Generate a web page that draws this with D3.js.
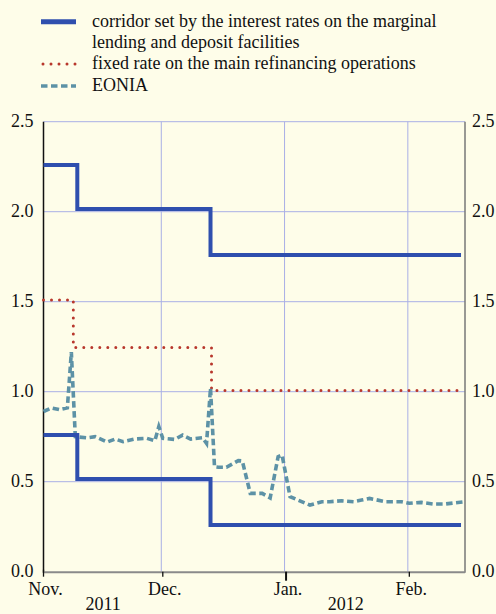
<!DOCTYPE html>
<html><head><meta charset="utf-8">
<script src="https://cdn.jsdelivr.net/npm/d3@7"></script>
<style>
html,body{margin:0;padding:0;background:#fefde9;}
svg{display:block;}
svg text{font-family:'Liberation Serif', Tinos, 'Times New Roman', Times, 'DejaVu Serif', serif;}
</style></head>
<body>
<svg id="chart" width="496" height="614"></svg>
<script>
const upperCorridor = [["2011-11-01",2.26],["2011-11-09T12:00",2.015],["2011-12-13",1.76],["2012-02-14",1.76]];
const lowerCorridor = [["2011-11-01",0.76],["2011-11-09T12:00",0.515],["2011-12-13",0.26],["2012-02-14",0.26]];
const mroRate = [["2011-11-01",1.51],["2011-11-08T12:00",1.245],["2011-12-13T06:00",1.007],["2012-02-14",1.0]];
const eoniaDates = ["2011-11-01","2011-11-03","2011-11-05","2011-11-07","2011-11-08","2011-11-09","2011-11-12","2011-11-14","2011-11-17","2011-11-19","2011-11-21","2011-11-24","2011-11-27","2011-11-29","2011-11-30","2011-12-01","2011-12-04","2011-12-06","2011-12-08","2011-12-11","2011-12-12","2011-12-13","2011-12-14","2011-12-15","2011-12-17","2011-12-20","2011-12-21","2011-12-23","2011-12-26","2011-12-28","2011-12-30","2011-12-31","2012-01-02","2012-01-04","2012-01-07","2012-01-10","2012-01-12","2012-01-15","2012-01-18","2012-01-20","2012-01-22","2012-01-26","2012-01-30","2012-02-01","2012-02-04","2012-02-07","2012-02-10","2012-02-15"];
const eoniaValues = [0.89,0.91,0.90,0.91,1.22,0.75,0.744,0.75,0.72,0.737,0.722,0.737,0.741,0.728,0.806,0.741,0.735,0.759,0.737,0.744,0.713,1.02,0.583,0.58,0.58,0.617,0.615,0.435,0.435,0.41,0.639,0.648,0.417,0.398,0.37,0.389,0.389,0.394,0.389,0.398,0.407,0.389,0.389,0.38,0.385,0.376,0.376,0.389];
const yTicks = [0.0,0.5,1.0,1.5,2.0,2.5];
const monthTicks = ["2011-11-01","2011-12-01","2012-01-01","2012-02-01"];
const monthLabels = ["Nov.","Dec.","Jan.","Feb."];
const yearLabels = [["2011","2011-11-16"],["2012","2012-01-16"]];
const legendItems = [
  {lines:["corridor set by the interest rates on the marginal","lending and deposit facilities"], key:"corridor"},
  {lines:["fixed rate on the main refinancing operations"], key:"mro"},
  {lines:["EONIA"], key:"eonia"}
];

const FONT = "'Liberation Serif', Tinos, 'Times New Roman', Times, 'DejaVu Serif', serif";
const FS = 18;
const parse = s => new Date(s);
const svg = d3.select("#chart");
const L = 43.5, R = 465, T = 121.7, B = 571.7;
const x = d3.scaleTime().domain([parse("2011-11-01"), parse("2012-02-15")]).range([L, R]);
const y = d3.scaleLinear().domain([0, 2.5]).range([B, T]);

const styles = {
  corridor:{stroke:"#2f4fae", width:4, dash:null, cap:"butt"},
  mro:{stroke:"#b8372c", width:3, dash:"0,8", cap:"round"},
  eonia:{stroke:"#5d92a6", width:3.6, dash:"6.5,3.5", cap:"butt"}
};

// grid
const g = svg.append("g");
g.selectAll("line.h").data(yTicks.filter(v=>v>0)).enter().append("line")
  .attr("x1", L).attr("x2", R).attr("y1", d=>y(d)).attr("y2", d=>y(d))
  .attr("stroke", "#a9afe6").attr("stroke-width", 1);
g.selectAll("line.v").data(monthTicks.slice(1)).enter().append("line")
  .attr("x1", d=>x(parse(d))-1.5).attr("x2", d=>x(parse(d))-1.5).attr("y1", T).attr("y2", B)
  .attr("stroke", "#a9afe6").attr("stroke-width", 1);

// axes lines
svg.append("line").attr("x1", L).attr("x2", L).attr("y1", T).attr("y2", B+1).attr("stroke", "#111").attr("stroke-width", 1.5);
svg.append("line").attr("x1", R).attr("x2", R).attr("y1", T).attr("y2", B+1).attr("stroke", "#777").attr("stroke-width", 1.5);
svg.append("line").attr("x1", L).attr("x2", R).attr("y1", B+0.5).attr("y2", B+0.5).attr("stroke", "#8a8a8a").attr("stroke-width", 2);

function txt(xx, yy, t, anchor){
  return svg.append("text").attr("x", xx).attr("y", yy).attr("text-anchor", anchor)
    .attr("font-family", FONT).attr("font-size", FS).attr("fill","#111").text(t);
}

// x ticks
monthTicks.forEach((d,i)=>{
  const xx = x(parse(d));
  const len = d==="2012-01-01" ? 9 : 5;
  svg.append("line").attr("x1", xx).attr("x2", xx).attr("y1", B-(i===0?2:0)).attr("y2", B+len)
    .attr("stroke", "#111").attr("stroke-width", i===2?2:1.3);
  txt(xx+2, 595, monthLabels[i], "middle");
});
yearLabels.forEach(([t,d])=> txt(x(parse(d)), 610, t, "middle"));

// y labels
yTicks.forEach(v=>{
  txt(33.5, y(v)+5.5, v.toFixed(1), "end");
  txt(472, y(v)+5.5, v.toFixed(1), "start");
});

// lines
const stepLine = d3.line().x(d=>x(parse(d[0]))).y(d=>y(d[1])).curve(d3.curveStepAfter);
function draw(path, st){
  const p = svg.append("path").attr("d", path).attr("fill","none")
    .attr("stroke", st.stroke).attr("stroke-width", st.width).attr("stroke-linecap", st.cap).attr("stroke-linejoin","miter");
  if (st.dash) p.attr("stroke-dasharray", st.dash);
}
draw(stepLine(mroRate), styles.mro);
const eonia = eoniaDates.map((d,i)=>[d, eoniaValues[i]]);
draw(d3.line().x(d=>x(parse(d[0]))).y(d=>y(d[1]))(eonia), styles.eonia);
draw(stepLine(upperCorridor), styles.corridor);
draw(stepLine(lowerCorridor), styles.corridor);

// legend
const rowY = [[27.3, 48],[69],[91]];
const symY = [21.7, 64, 86];
legendItems.forEach((it,i)=>{
  const st = styles[it.key];
  svg.append("line").attr("x1", 41).attr("x2", 76).attr("y1", symY[i]).attr("y2", symY[i])
    .attr("stroke", st.stroke).attr("stroke-width", i===0?5:st.width).attr("stroke-linecap", st.cap)
    .attr("stroke-dasharray", st.dash)
    .attr("transform", it.key==="mro" ? "translate(2,0)" : null);
  it.lines.forEach((t,j)=> txt(92, rowY[i][j], t, "start"));
});
</script>
</body></html>
